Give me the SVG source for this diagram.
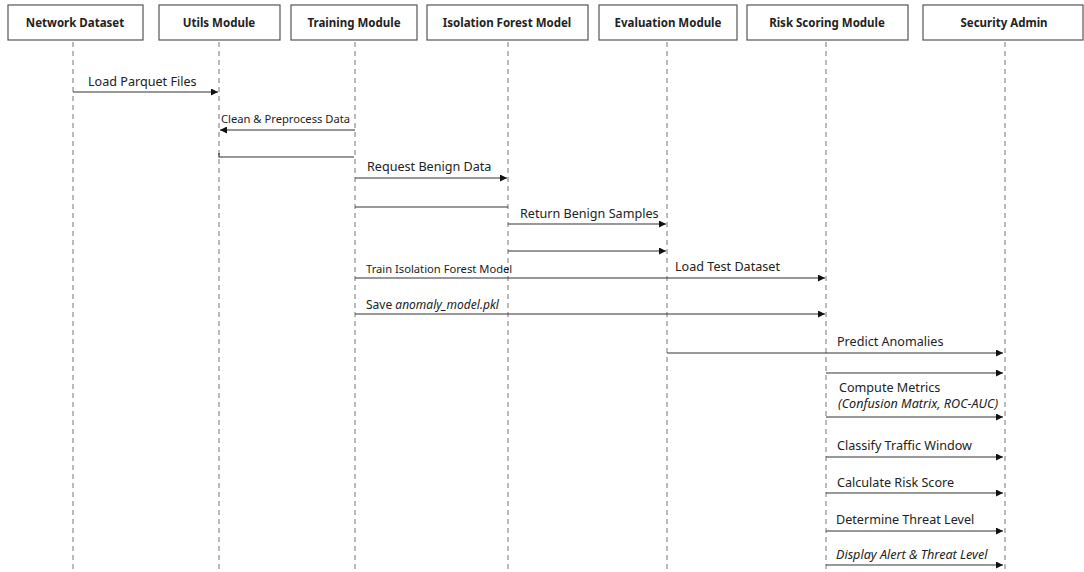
<svg xmlns="http://www.w3.org/2000/svg" width="1084" height="572" viewBox="0 0 1084 572">
<defs>
<style>
.box{fill:#fff;stroke:#555;stroke-width:1.2}
.hdr{font-family:"Noto Sans","Liberation Sans",sans-serif;font-size:11.5px;font-weight:bold;fill:#222;text-anchor:middle}
.life{stroke:#777;stroke-width:1;stroke-dasharray:5,4;fill:none}
.msg{stroke:#333;stroke-width:1.2;fill:none}
.arr{marker-end:url(#ah)}
.lbl{font-family:"Noto Sans","Liberation Sans",sans-serif;font-size:12.6px;fill:#222}
.sm{font-size:11.2px}
.md{font-size:12px}
.it{font-style:italic}
</style>
<marker id="ah" viewBox="0 0 10 10" refX="10" refY="5" markerWidth="10" markerHeight="7" markerUnits="userSpaceOnUse" orient="auto">
<path d="M0,0 L10,5 L0,10 z" fill="#111"/>
</marker>
</defs>
<rect width="1084" height="572" fill="#fff"/>
<g id="network-dataset"><rect class="box" x="8" y="5" width="135" height="35"/><text class="hdr" x="75" y="27">Network Dataset</text><line class="life" x1="73" y1="42" x2="73" y2="572"/></g>
<g id="utils-module"><rect class="box" x="159" y="5" width="121" height="35"/><text class="hdr" x="219" y="27">Utils Module</text><line class="life" x1="219" y1="42" x2="219" y2="572"/></g>
<g id="training-module"><rect class="box" x="291" y="5" width="126" height="35"/><text class="hdr" x="354" y="27">Training Module</text><line class="life" x1="355" y1="42" x2="355" y2="572"/></g>
<g id="isolation-forest-model"><rect class="box" x="427" y="5" width="161" height="35"/><text class="hdr" x="507" y="27">Isolation Forest Model</text><line class="life" x1="508" y1="42" x2="508" y2="572"/></g>
<g id="evaluation-module"><rect class="box" x="599" y="5" width="138" height="35"/><text class="hdr" x="668" y="27">Evaluation Module</text><line class="life" x1="667" y1="42" x2="667" y2="572"/></g>
<g id="risk-scoring-module"><rect class="box" x="747" y="5" width="161" height="35"/><text class="hdr" x="827" y="27">Risk Scoring Module</text><line class="life" x1="826" y1="42" x2="826" y2="572"/></g>
<g id="security-admin"><rect class="box" x="923" y="5" width="160" height="35"/><text class="hdr" x="1004" y="27">Security Admin</text><line class="life" x1="1005" y1="42" x2="1005" y2="572"/></g>
<g id="connectors">
<line class="msg arr" x1="73" y1="92" x2="218" y2="92"/>
<text class="lbl" x="88" y="86">Load Parquet Files</text>
<line class="msg arr" x1="355" y1="130" x2="220" y2="130"/>
<text class="lbl sm" x="221" y="123">Clean &amp; Preprocess Data</text>
<path class="msg" d="M219,153 L219,157 L354,157"/>
<line class="msg arr" x1="355" y1="178" x2="507" y2="178"/>
<text class="lbl" x="367" y="171">Request Benign Data</text>
<line class="msg" x1="355" y1="207" x2="508" y2="207"/>
<line class="msg arr" x1="508" y1="224" x2="666" y2="224"/>
<text class="lbl" x="520" y="218">Return Benign Samples</text>
<line class="msg arr" x1="508" y1="251" x2="666" y2="251"/>
<line class="msg arr" x1="355" y1="278" x2="825" y2="278"/>
<text class="lbl sm" x="366" y="273">Train Isolation Forest Model</text>
<text class="lbl" x="675" y="271">Load Test Dataset</text>
<line class="msg arr" x1="355" y1="314" x2="825" y2="314"/>
<text class="lbl md" x="366" y="309">Save <tspan class="it">anomaly_model.pkl</tspan></text>
<line class="msg arr" x1="667" y1="353" x2="1003" y2="353"/>
<text class="lbl" x="837" y="346">Predict Anomalies</text>
<line class="msg arr" x1="826" y1="373" x2="1003" y2="373"/>
<text class="lbl" x="839" y="392">Compute Metrics</text>
<text class="lbl it" x="838" y="408">(Confusion Matrix, ROC-AUC)</text>
<line class="msg arr" x1="826" y1="417" x2="1003" y2="417"/>
<text class="lbl" x="837" y="450">Classify Traffic Window</text>
<line class="msg arr" x1="826" y1="457" x2="1003" y2="457"/>
<text class="lbl" x="837" y="487">Calculate Risk Score</text>
<line class="msg arr" x1="826" y1="493" x2="1003" y2="493"/>
<text class="lbl" x="836" y="524">Determine Threat Level</text>
<line class="msg arr" x1="826" y1="531" x2="1003" y2="531"/>
<text class="lbl it" x="836" y="559">Display Alert &amp; Threat Level</text>
<line class="msg arr" x1="826" y1="565" x2="1003" y2="565"/>
</g>
</svg>
